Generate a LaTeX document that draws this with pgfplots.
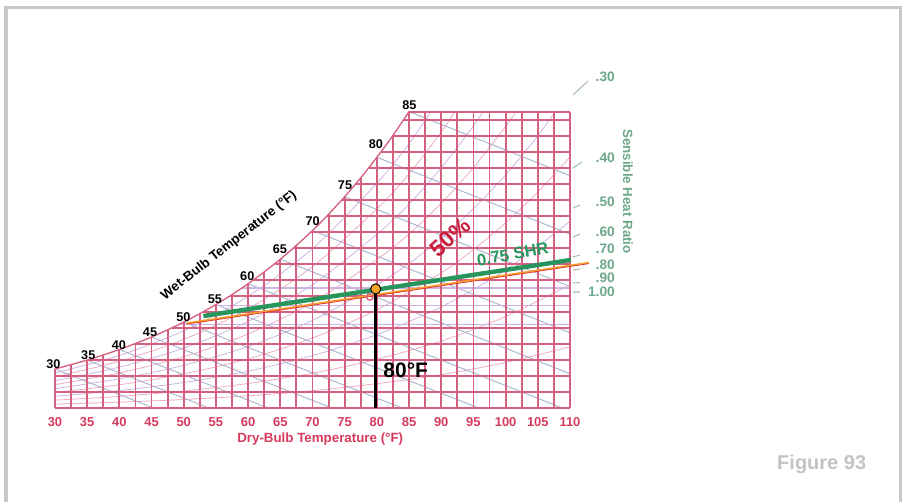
\documentclass[border=0pt]{standalone}
\usepackage{fontspec}
\setmainfont{Liberation Sans}
\usepackage{pgfplots}
\pgfplotsset{compat=1.18}
\definecolor{gridred}{RGB}{214,96,128}
\definecolor{tickred}{RGB}{214,58,92}
\definecolor{wbgray}{RGB}{170,178,206}
\definecolor{rhpink}{RGB}{236,172,196}
\definecolor{rhpurple}{RGB}{206,180,226}
\definecolor{shrgreen}{RGB}{110,168,138}
\definecolor{shrtick}{RGB}{165,192,176}
\definecolor{linegreen}{RGB}{40,150,92}
\definecolor{orangeline}{RGB}{245,160,40}
\definecolor{redline}{RGB}{225,45,60}
\definecolor{dotorange}{RGB}{245,165,40}
\definecolor{pctred}{RGB}{200,30,60}
\definecolor{framegray}{RGB}{200,200,200}
\definecolor{figgray}{RGB}{195,195,195}
\begin{document}
\begin{tikzpicture}
\useasboundingbox ({-55*0.75pt},{-94*0.75pt}) rectangle ({852*0.75pt},{408*0.75pt});
\draw[framegray, line width=2.4pt] ({(6-55)*0.75pt},{-96*0.75pt}) -- ({(6-55)*0.75pt},{(408-7.5)*0.75pt}) -- ({(900.5-55)*0.75pt},{(408-7.5)*0.75pt}) -- ({(900.5-55)*0.75pt},{-96*0.75pt});
\begin{axis}[
  at={(0,0)}, anchor=south west,
  scale only axis, width=386.25pt, height=222.3pt,
  xmin=30, xmax=110, ymin=0, ymax=185,
  clip=false,
  axis line style={draw=none},
  major tick length=0pt,
  ytick=\empty,
  xtick={30,35,40,45,50,55,60,65,70,75,80,85,90,95,100,105,110},
  xticklabels={30,35,40,45,50,55,60,65,70,75,80,85,90,95,100,105,110},
  xticklabel style={font=\fontsize{9.7}{10}\selectfont\bfseries, text=tickred, anchor=center, yshift=-10.3pt},
  unbounded coords=jump,
]
% relative humidity curves
\addplot[rhpink, line width=0.6pt, smooth] coordinates {(30,2.4)(40,3.65)(50,5.3)(60,7.6)(70,10.8)(80,15.2)(90,20.8)(100,28.4)(110,38.2)};
\addplot[rhpink, line width=0.6pt, smooth] coordinates {(30,4.9)(40,7.25)(50,10.6)(60,15.3)(70,21.7)(80,30.4)(90,41.8)(100,57.1)(110,77.0)};
\addplot[rhpurple, line width=0.6pt, smooth] coordinates {(30,7.3)(40,10.9)(50,15.9)(60,23.0)(70,32.7)(80,45.8)(90,63.1)(100,86.2)(110,116.5)};
\addplot[rhpink, line width=0.6pt, smooth] coordinates {(30,9.7)(40,14.5)(50,21.3)(60,30.7)(70,43.7)(80,61.3)(90,84.4)(95,98.9)(100,115.6)(105,134.8)(110,156.7)};
\addplot[rhpurple, line width=0.6pt, smooth] coordinates {(30,12.1)(40,18.2)(50,26.6)(60,38.4)(70,54.7)(80,76.9)(85,90.2)(90,106.0)(95,124.4)(100,145.5)(105,169.8)(107.7,185)};
\addplot[rhpink, line width=0.6pt, smooth] coordinates {(30,14.6)(40,21.9)(50,32.0)(60,46.2)(70,65.8)(80,92.6)(85,108.6)(90,127.8)(95,150.1)(100,175.7)(101.6,185)};
\addplot[rhpurple, line width=0.6pt, smooth] coordinates {(30,17.0)(40,25.5)(50,37.4)(60,54.1)(70,77.0)(80,108.4)(85,127.3)(90,149.9)(95,176.1)(96.5,185)};
\addplot[rhpink, line width=0.6pt, smooth] coordinates {(30,19.4)(40,29.2)(50,42.8)(60,61.9)(70,88.3)(80,124.3)(85,146.1)(90,172.2)(92.1,185)};
\addplot[rhpurple, line width=0.6pt, smooth] coordinates {(30,21.9)(40,32.8)(50,48.2)(60,69.7)(70,99.5)(80,140.3)(85,165.0)(88.4,185)};
% wet-bulb lines
\addplot[wbgray, line width=0.7pt] coordinates {(30,24.3)(45.3,0) (0,nan) (35,29.9)(53.9,0) (0,nan) (40,36.5)(63.1,0) (0,nan) (45,44.3)(73.0,0) (0,nan) (50,53.6)(83.9,0) (0,nan) (55,64.6)(95.8,0) (0,nan) (60,77.6)(108.8,0) (0,nan) (65,92.9)(110,21.4) (0,nan) (70,110.8)(110,47.0) (0,nan) (75,131.9)(110,75.9) (0,nan) (80,156.5)(110,108.5) (0,nan) (85,185)(110,145)};
% purple horizontal lines
\addplot[rhpurple, line width=1.1pt] coordinates {(59.1,75)(110,75) (0,nan) (54.7,64)(110,64) (0,nan) (49.2,52)(110,52)};
% red grid: vertical lines
\addplot[gridred, line width=1.4pt, ycomb, mark=none] coordinates {(30,24.3)(32.5,27.1)(35,29.9)(37.5,33.1)(40,36.5)(42.5,40.3)(45,44.3)(47.5,48.8)(50,53.6)(52.5,58.9)(55,64.6)(57.5,70.8)(60,77.6)(62.5,84.9)(65,92.9)(67.5,101.5)(70,110.8)(72.5,120.9)(75,131.9)(77.5,143.7)(80,156.5)(82.5,170.1)(85,185)(87.5,185)(90,185)(92.5,185)(95,185)(97.5,185)(100,185)(102.5,185)(105,185)(107.5,185)(110,185)};
% red grid: horizontal lines
\addplot[gridred, line width=1.4pt] coordinates {(30,0)(110,0) (0,nan) (30,10)(110,10) (0,nan) (30,20)(110,20) (0,nan) (35.05,30)(110,30) (0,nan) (42.33,40)(110,40) (0,nan) (48.12,50)(110,50) (0,nan) (52.99,60)(110,60) (0,nan) (57.17,70)(110,70) (0,nan) (60.82,80)(110,80) (0,nan) (64.10,90)(110,90) (0,nan) (67.08,100)(110,100) (0,nan) (69.78,110)(110,110) (0,nan) (72.28,120)(110,120) (0,nan) (74.57,130)(110,130) (0,nan) (76.72,140)(110,140) (0,nan) (78.74,150)(110,150) (0,nan) (80.65,160)(110,160) (0,nan) (82.48,170)(110,170) (0,nan) (84.16,180)(110,180) (0,nan) (85,185)(110,185)};
% saturation curve
\addplot[gridred, line width=1pt, smooth] coordinates {(30,24.3)(32.5,27.1)(35,29.9)(37.5,33.1)(40,36.5)(42.5,40.3)(45,44.3)(47.5,48.8)(50,53.6)(52.5,58.9)(55,64.6)(57.5,70.8)(60,77.6)(62.5,84.9)(65,92.9)(67.5,101.5)(70,110.8)(72.5,120.9)(75,131.9)(77.5,143.7)(80,156.5)(82.5,170.1)(85,185)};
% SHR scale ticks
\addplot[shrtick, line width=0.8pt] coordinates {(110.47,195.4)(112.8,204.1) (0,nan) (110.47,149.8)(111.86,153.6) (0,nan) (110.47,124.8)(111.55,126.7) (0,nan) (110.47,106.7)(111.55,108.6) (0,nan) (110.47,94.3)(111.55,95.5) (0,nan) (110.47,86.1)(111.55,86.8) (0,nan) (110.47,78.0)(111.55,78.3) (0,nan) (110.47,72.4)(111.55,72.4)};
% reference circle
\addplot[gridred, only marks, mark=o, mark size=2.4pt, line width=1pt] coordinates {(78.9,69.3)};
% process lines
\addplot[orangeline, line width=1.4pt] coordinates {(50.46,52.9)(112.95,90.7)};
\addplot[redline, line width=0.5pt] coordinates {(50.46,52.3)(112.95,90.1)};
\addplot[linegreen, line width=3.3pt] coordinates {(53.05,57.4)(110.15,92.4)};
\addplot[black, line width=2.3pt] coordinates {(79.82,0)(79.82,73.6)};
\addplot[only marks, mark=*, mark size=3.8pt, mark options={fill=dotorange, draw=black, line width=0.7pt}] coordinates {(79.82,74.3)};
% wet-bulb labels
\begin{scope}[every node/.style={font=\fontsize{9.5}{10}\selectfont\bfseries, text=black}]
\node at (axis cs:29.74,27.5) {30};
\node at (axis cs:35.17,33.1) {35};
\node at (axis cs:39.94,39.3) {40};
\node at (axis cs:44.76,47.0) {45};
\node at (axis cs:49.93,56.4) {50};
\node at (axis cs:54.85,68.0) {55};
\node at (axis cs:59.87,82.0) {60};
\node at (axis cs:64.95,99.3) {65};
\node at (axis cs:70.03,116.9) {70};
\node at (axis cs:75.05,139.2) {75};
\node at (axis cs:79.86,164.8) {80};
\node at (axis cs:85.04,189.1) {85};
\end{scope}
\node[rotate=38, font=\fontsize{10}{11}\selectfont\bfseries] at (axis cs:57.03,101.3) {Wet-Bulb Temperature (°F)};
\node[font=\fontsize{10}{11}\selectfont\bfseries, text=tickred] at (axis cs:71.2,-19.2) {Dry-Bulb Temperature (°F)};
% SHR scale labels
\begin{scope}[every node/.style={font=\fontsize{10.3}{11}\selectfont\bfseries, text=shrgreen, anchor=east, inner sep=0pt}]
\node at (axis cs:117.0,206.8) {.30};
\node at (axis cs:117.0,155.9) {.40};
\node at (axis cs:117.0,128.8) {.50};
\node at (axis cs:117.0,110.1) {.60};
\node at (axis cs:117.0,99.1) {.70};
\node at (axis cs:117.0,89.3) {.80};
\node at (axis cs:117.0,81.0) {.90};
\node at (axis cs:117.0,72.6) {1.00};
\end{scope}
\node[rotate=-90, font=\fontsize{10}{11}\selectfont\bfseries, text=shrgreen] at (axis cs:119.0,135.1) {Sensible Heat Ratio};
\node[rotate=10, font=\fontsize{12.5}{13}\selectfont\bfseries, text=linegreen] at (axis cs:101.1,95.9) {0.75 SHR};
\node[rotate=42, font=\fontsize{17}{18}\selectfont\bfseries, text=pctred] at (axis cs:91.36,106.7) {50\%};
\node[font=\fontsize{15.7}{16}\selectfont\bfseries, text=black] at (axis cs:84.48,23.3) {80°F};
\node[font=\fontsize{15}{16}\selectfont\bfseries, text=figgray] at (axis cs:149.1,-35.3) {Figure 93};
\end{axis}
\end{tikzpicture}
\end{document}
